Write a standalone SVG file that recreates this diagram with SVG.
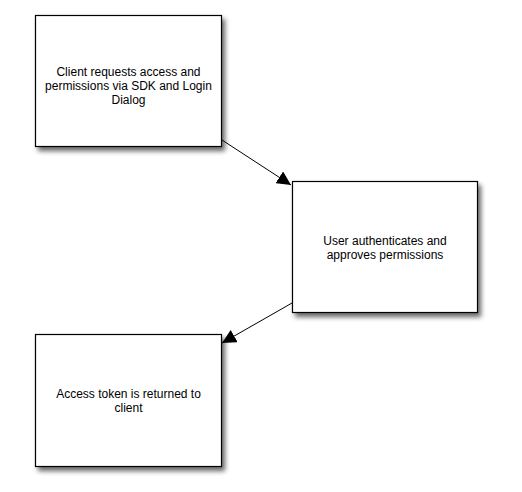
<svg xmlns="http://www.w3.org/2000/svg" width="522" height="492" viewBox="0 0 522 492">
  <defs>
    <filter id="shadow" x="-10%" y="-10%" width="130%" height="130%">
      <feGaussianBlur in="SourceAlpha" stdDeviation="2.5"/>
      <feOffset dx="3" dy="4" result="b"/>
      <feComponentTransfer><feFuncA type="linear" slope="0.6"/></feComponentTransfer>
      <feMerge><feMergeNode/><feMergeNode in="SourceGraphic"/></feMerge>
    </filter>
    <marker id="arrow" viewBox="0 0 10 10" refX="10" refY="5" markerWidth="14" markerHeight="14" markerUnits="userSpaceOnUse" orient="auto">
      <path d="M0,0 L10,5 L0,10 z" fill="#000"/>
    </marker>
    <style>
      .box { fill: #fff; stroke: #000; stroke-width: 1.2; filter: url(#shadow); }
      .label { font-family: "Liberation Sans", Arial, sans-serif; font-size: 12px; fill: #000; text-anchor: middle; }
      .edge { stroke: #000; stroke-width: 1; fill: none; marker-end: url(#arrow); }
    </style>
  </defs>
  <rect width="522" height="492" fill="#fff"/>
  <g id="node1">
    <rect class="box" x="35.5" y="15.5" width="186" height="131"/>
    <text class="label" x="128.5" y="75.5">Client requests access and</text>
    <text class="label" x="128.5" y="89.5">permissions via SDK and Login</text>
    <text class="label" x="128.5" y="103.5">Dialog</text>
  </g>
  <g id="node2">
    <rect class="box" x="292.5" y="181.5" width="185" height="131"/>
    <text class="label" x="385" y="245">User authenticates and</text>
    <text class="label" x="385" y="259">approves permissions</text>
  </g>
  <g id="node3">
    <rect class="box" x="35.5" y="334.5" width="186" height="132"/>
    <text class="label" x="128.5" y="398">Access token is returned to</text>
    <text class="label" x="128.5" y="412">client</text>
  </g>
  <g id="connectors">
    <line class="edge" x1="222" y1="140" x2="291" y2="185"/>
    <line class="edge" x1="292" y1="303" x2="222" y2="343"/>
  </g>
</svg>
